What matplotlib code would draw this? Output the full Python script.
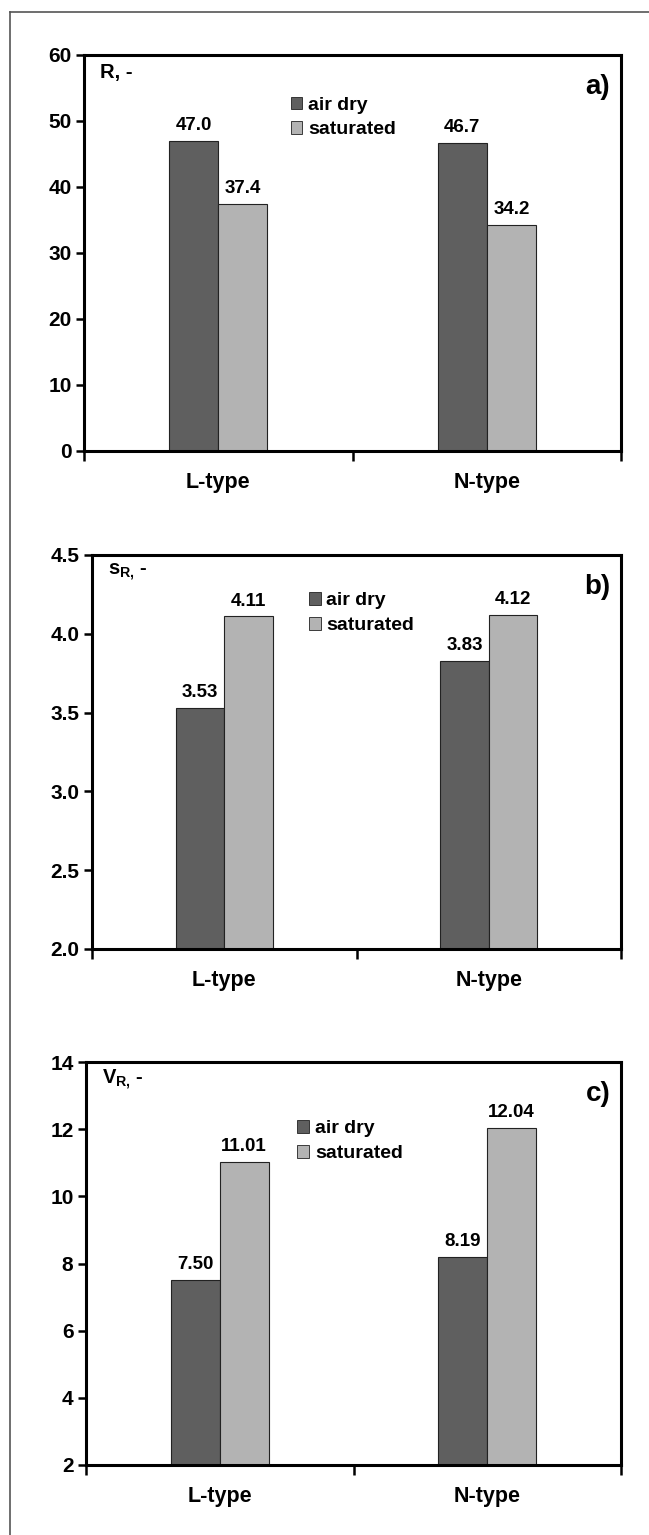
import matplotlib
matplotlib.use("Agg")
import matplotlib.pyplot as plt
from matplotlib.lines import Line2D
from matplotlib.patches import Patch
import numpy as np

plt.rcParams['font.family'] = ['Liberation Sans', 'DejaVu Sans']
plt.rcParams['font.weight'] = 'bold'
plt.rcParams['mathtext.fontset'] = 'custom'
plt.rcParams['mathtext.rm'] = 'Liberation Sans:bold'
plt.rcParams['mathtext.it'] = 'Liberation Sans:bold'
plt.rcParams['mathtext.bf'] = 'Liberation Sans:bold'

categories = ["L-type", "N-type"]
series_names = ["air dry", "saturated"]

R_air = [47.0, 46.7]
R_sat = [37.4, 34.2]
R_labels = ["47.0", "46.7", "37.4", "34.2"]

s_air = [3.53, 3.83]
s_sat = [4.11, 4.12]
s_labels = ["3.53", "3.83", "4.11", "4.12"]

V_air = [7.50, 8.19]
V_sat = [11.01, 12.04]
V_labels = ["7.50", "8.19", "11.01", "12.04"]

panels = [
    dict(air=R_air, sat=R_sat, labels=R_labels, ylim=(0, 60), yticks=np.arange(0, 61, 10), fmt="{:.0f}",
         ylabel="R, -", letter="a)", box=(84, 621, 55, 451), leg=(0.385, 0.895)),
    dict(air=s_air, sat=s_sat, labels=s_labels, ylim=(2.0, 4.5), yticks=np.arange(2.0, 4.51, 0.5), fmt="{:.1f}",
         ylabel="$s_{R,}\\,$-", letter="b)", box=(92, 621, 555, 949), leg=(0.41, 0.905)),
    dict(air=V_air, sat=V_sat, labels=V_labels, ylim=(2, 14), yticks=np.arange(2, 15, 2), fmt="{:.0f}",
         ylabel="$V_{R,}\\,$-", letter="c)", box=(86, 621, 1062, 1465), leg=(0.395, 0.855)),
]

W, H = 649, 1535
fig = plt.figure(figsize=(W / 100, H / 100), dpi=100)

# outer frame
fig.add_artist(Line2D([10 / W, 10 / W], [0, 1 - 12 / H], transform=fig.transFigure, color="#555555", lw=1.2))
fig.add_artist(Line2D([10 / W, 1], [1 - 12 / H, 1 - 12 / H], transform=fig.transFigure, color="#555555", lw=1.2))

dark = "#5f5f5f"
light = "#b3b3b3"
bw = 0.183
x = np.arange(len(categories))

for p in panels:
    l, r, t, b = p["box"]
    ax = fig.add_axes([l / W, 1 - b / H, (r - l) / W, (b - t) / H])
    ax.bar(x - bw / 2, p["air"], width=bw, color=dark, edgecolor="#222222", linewidth=0.8, zorder=2)
    ax.bar(x + bw / 2, p["sat"], width=bw, color=light, edgecolor="#222222", linewidth=0.8, zorder=2)
    ax.set_ylim(*p["ylim"])
    ax.set_xlim(-0.5, 1.5)
    ax.set_yticks(p["yticks"])
    ax.set_yticklabels([p["fmt"].format(v) for v in p["yticks"]], fontsize=15, fontweight="bold")
    ax.set_xticks([-0.5, 0.5, 1.5])
    ax.set_xticklabels([])
    ax.set_xticks(x, minor=True)
    ax.set_xticklabels(categories, minor=True, fontsize=15.5, fontweight="bold")
    ax.tick_params(axis="x", which="minor", length=0, pad=15)
    ax.tick_params(axis="x", which="major", length=7, width=1.8, direction="out")
    ax.tick_params(axis="y", length=6, width=1.8, direction="out", pad=3)
    for s in ax.spines.values():
        s.set_linewidth(2.2)
    vals = list(p["air"]) + list(p["sat"])
    xs = list(x - bw / 2) + list(x + bw / 2)
    for xi, v, lab in zip(xs, vals, p["labels"]):
        ax.annotate(lab, (xi, v), xytext=(0, 5), textcoords="offset points",
                    ha="center", va="bottom", fontsize=13.5, fontweight="bold")
    ax.text(0.03, 0.955, p["ylabel"], transform=ax.transAxes, ha="left", va="center",
            fontsize=14.5, fontweight="bold")
    ax.text(0.98, 0.92, p["letter"], transform=ax.transAxes, ha="right", va="center",
            fontsize=20, fontweight="bold")
    handles = [Patch(facecolor=dark, edgecolor="#222222", linewidth=0.6),
               Patch(facecolor=light, edgecolor="#222222", linewidth=0.6)]
    ax.legend(handles, series_names, loc="upper left", bbox_to_anchor=p["leg"], frameon=False,
              prop=dict(size=14, weight="bold"), handlelength=0.6, handleheight=0.6,
              handletextpad=0.3, labelspacing=0.4, borderpad=0, borderaxespad=0)

fig.savefig("out.png", dpi=100)
